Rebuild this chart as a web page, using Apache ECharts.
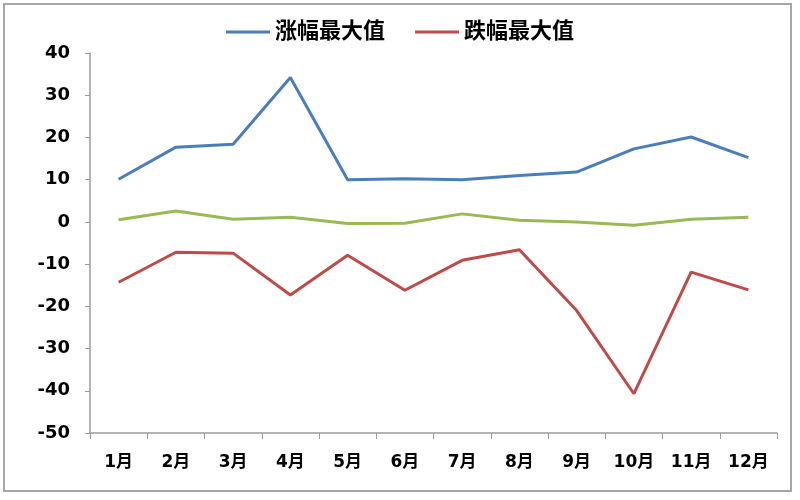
<!DOCTYPE html>
<html>
<head>
<meta charset="utf-8">
<script src="https://cdn.jsdelivr.net/npm/echarts@6/dist/echarts.min.js"></script>
<style>html,body{margin:0;padding:0;background:#fff}#c{width:800px;height:500px}</style>
</head>
<body>
<div id="c"></div>
<script>
const categories = ['1月','2月','3月','4月','5月','6月','7月','8月','9月','10月','11月','12月'];
const riseMax = [10.1, 17.7, 18.4, 34.2, 10.0, 10.2, 10.0, 11.0, 11.8, 17.3, 20.1, 15.2];
const fallMax = [-14.3, -7.2, -7.4, -17.3, -7.9, -16.2, -9.1, -6.6, -21.0, -40.7, -11.9, -16.1];
const midLine = [0.5, 2.6, 0.6, 1.1, -0.4, -0.3, 1.9, 0.4, 0.0, -0.8, 0.6, 1.1];
const seriesNames = ['涨幅最大值', '跌幅最大值', '平均值'];
const yTicks = {min: -50, max: 40, interval: 10};

const font = "'DejaVu Sans', 'Noto Sans CJK SC', sans-serif";
const chart = echarts.init(document.getElementById('c'), null, {renderer: 'canvas'});
chart.setOption({
  backgroundColor: '#fff',
  animation: false,
  graphic: [
    {type: 'rect', shape: {x: 4, y: 4, width: 787, height: 487}, style: {fill: 'none', stroke: '#a6a6a6', lineWidth: 2}}
  ],
  legend: {
    data: [seriesNames[0], seriesNames[1]],
    top: 16,
    left: 'center',
    icon: 'rect',
    itemWidth: 44,
    itemHeight: 3,
    itemGap: 30,
    textStyle: {fontFamily: font, fontWeight: 'bold', fontSize: 22, color: '#000'}
  },
  grid: {left: 90, right: 23, top: 53, bottom: 67},
  xAxis: {
    type: 'category',
    data: categories,
    boundaryGap: true,
    axisLine: {onZero: false, lineStyle: {color: '#9a9a9a', width: 1.5}},
    axisTick: {show: true, interval: 0, length: 6, lineStyle: {color: '#9a9a9a'}},
    axisLabel: {interval: 0, margin: 21, color: '#000', fontFamily: font, fontWeight: 'bold', fontSize: 17},
    splitLine: {show: false}
  },
  yAxis: {
    type: 'value',
    min: yTicks.min, max: yTicks.max, interval: yTicks.interval,
    axisLine: {show: true, lineStyle: {color: '#9a9a9a', width: 1.5}},
    axisTick: {show: true, length: 5, lineStyle: {color: '#9a9a9a'}},
    axisLabel: {margin: 20, color: '#000', fontFamily: font, fontWeight: 'bold', fontSize: 18},
    splitLine: {show: false}
  },
  series: [
    {name: seriesNames[0], type: 'line', data: riseMax, symbol: 'none', lineStyle: {width: 3, color: '#4a7ebb'}, itemStyle: {color: '#4a7ebb'}},
    {name: seriesNames[1], type: 'line', data: fallMax, symbol: 'none', lineStyle: {width: 3, color: '#be4b48'}, itemStyle: {color: '#be4b48'}},
    {name: seriesNames[2], type: 'line', data: midLine, symbol: 'none', lineStyle: {width: 3, color: '#98b954'}, itemStyle: {color: '#98b954'}}
  ]
});
</script>
</body>
</html>
